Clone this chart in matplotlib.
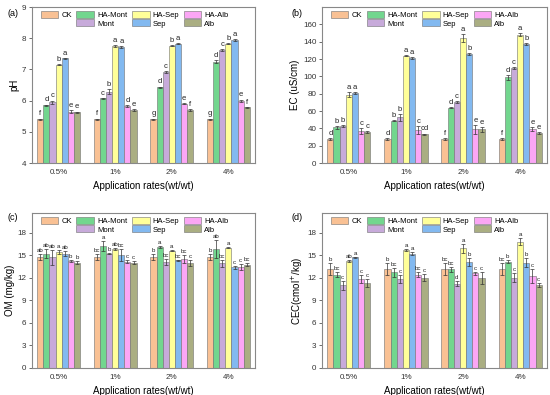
import matplotlib
matplotlib.use("Agg")
import matplotlib.pyplot as plt
import numpy as np
from matplotlib.patches import Patch

rates = ["0.5%", "1%", "2%", "4%"]
treatments = ["CK", "HA-Mont", "Mont", "HA-Sep", "Sep", "HA-Alb", "Alb"]
colors = ["#F9C194", "#72D68E", "#C7AADA", "#FFFF99", "#82B9F0", "#FBA6F5", "#AAAE82"]

# values per rate (rows) x treatment (cols)
ph = [[5.40, 5.85, 5.95, 7.15, 7.35, 5.65, 5.62],
      [5.40, 6.07, 6.28, 7.75, 7.72, 5.82, 5.70],
      [5.40, 6.43, 6.92, 7.76, 7.82, 5.90, 5.70],
      [5.40, 7.25, 7.63, 7.83, 7.95, 6.00, 5.78]]
ph_err = [[0.02, 0.02, 0.05, 0.02, 0.02, 0.05, 0.03],
          [0.02, 0.02, 0.08, 0.03, 0.02, 0.03, 0.02],
          [0.02, 0.02, 0.03, 0.02, 0.02, 0.02, 0.02],
          [0.02, 0.04, 0.03, 0.02, 0.03, 0.03, 0.02]]
ph_let = [["f", "d", "c", "b", "a", "e", "e"],
          ["f", "c", "b", "a", "a", "d", "e"],
          ["g", "d", "c", "b", "a", "e", "f"],
          ["g", "d", "c", "b", "a", "e", "f"]]

ec = [[28, 41, 43, 79, 81, 37, 36],
      [28, 49, 53, 124, 121, 38, 33],
      [28, 64, 70, 144, 126, 39, 39],
      [28, 99, 110, 148, 137, 39, 35]]
ec_err = [[1, 1.5, 1, 3, 1, 3, 1],
          [1, 1, 4, 1, 1, 5, 1],
          [1, 1, 1, 4.5, 1, 5, 3],
          [1, 3, 1, 2, 1, 2.5, 1]]
ec_let = [["d", "b", "b", "a", "a", "c", "c"],
          ["d", "b", "b", "a", "a", "c", "cd"],
          ["f", "d", "c", "a", "b", "e", "e"],
          ["f", "d", "c", "a", "b", "e", "e"]]

om = [[14.8, 15.2, 14.7, 15.4, 15.2, 14.2, 14.0],
      [14.8, 16.2, 15.2, 15.8, 15.0, 14.1, 14.0],
      [14.8, 16.1, 14.1, 15.6, 14.3, 14.5, 13.9],
      [14.8, 15.8, 13.9, 16.0, 13.4, 13.4, 13.7]]
om_err = [[0.4, 0.6, 1.0, 0.3, 0.3, 0.1, 0.2],
          [0.4, 0.7, 0.1, 0.1, 0.8, 0.2, 0.2],
          [0.4, 0.1, 0.4, 0.1, 0.1, 0.5, 0.4],
          [0.4, 1.2, 0.5, 0.1, 0.2, 0.4, 0.2]]
om_let = [["ab", "ab", "ab", "a", "ab", "b", "b"],
          ["bc", "a", "b", "ab", "bc", "c", "c"],
          ["b", "a", "bc", "a", "bc", "bc", "c"],
          ["b", "ab", "bc", "a", "c", "c", "bc"]]

cec = [[13.2, 12.4, 11.0, 14.2, 14.7, 11.8, 11.3],
       [13.2, 12.7, 11.8, 15.7, 15.2, 12.4, 12.0],
       [13.2, 13.1, 11.2, 15.9, 14.1, 12.6, 12.0],
       [13.2, 14.1, 12.0, 16.8, 14.0, 12.2, 11.0]]
cec_err = [[0.8, 0.3, 0.6, 0.1, 0.1, 0.5, 0.5],
           [0.8, 0.6, 0.5, 0.1, 0.2, 0.3, 0.5],
           [0.8, 0.3, 0.3, 0.6, 0.5, 0.2, 0.8],
           [0.8, 0.2, 0.6, 0.5, 0.6, 0.9, 0.3]]
cec_let = [["b", "bc", "c", "ab", "a", "c", "c"],
           ["b", "bc", "c", "a", "a", "bc", "c"],
           ["bc", "bc", "d", "a", "b", "c", "c"],
           ["bc", "b", "c", "a", "b", "c", "c"]]

W, H = 550, 395
fig = plt.figure(figsize=(5.5, 3.95), dpi=100)
plt.rcParams['font.family'] = ['Liberation Sans', 'DejaVu Sans']


def rect(l, r, t, b):
    return [l / W, 1 - b / H, (r - l) / W, (b - t) / H]


panels = [
    (rect(32, 255, 7, 163), ph, ph_err, ph_let, "pH", (4, 9), np.arange(4, 10, 1), "(a)", (8, 13), 0.04, 5.5),
    (rect(322, 547, 7, 163), ec, ec_err, ec_let, "EC (uS/cm)", (0, 180), np.arange(0, 161, 20), "(b)", (291, 13), 1.2, 5.5),
    (rect(32, 255, 213, 368), om, om_err, om_let, "OM (mg/kg)", (0, 20.6), np.arange(0, 19, 3), "(c)", (8, 217), 0.15, 4.4),
    (rect(322, 547, 213, 368), cec, cec_err, cec_let, "CEC(cmol$^{+}$/kg)", (0, 20.6), np.arange(0, 19, 3), "(d)", (291, 217), 0.15, 4.4),
]

bw = 0.108
x = np.arange(len(rates))
edge = "#707070"
for pos, vals, errs, lets, ylab, ylim, yt, tag, tagxy, pad, lfs in panels:
    ax = fig.add_axes(pos)
    vals = np.array(vals)
    errs = np.array(errs)
    for j, t in enumerate(treatments):
        xs = x + (j - 3) * bw
        ax.bar(xs, vals[:, j], bw, color=colors[j], edgecolor=edge, linewidth=0.4, zorder=2)
        ax.errorbar(xs, vals[:, j], yerr=errs[:, j], fmt="none", ecolor="#333333",
                    elinewidth=0.5, capsize=1.5, capthick=0.5, zorder=3)
        for i in range(len(rates)):
            ax.text(xs[i], vals[i, j] + errs[i, j] + pad, lets[i][j], ha="center", va="bottom",
                    fontsize=lfs, color="#222222", zorder=4)
    ax.set_ylim(*ylim)
    ax.set_xlim(-0.47, 3.47)
    ax.set_yticks(yt)
    ax.set_xticks(x)
    ax.set_xticklabels(rates)
    ax.tick_params(axis="both", labelsize=5.8, length=2, width=0.5, direction="out",
                   colors="#333333", pad=2)
    ax.tick_params(axis="x", length=0, pad=4)
    for s in ax.spines.values():
        s.set_color("#888888")
        s.set_linewidth(0.8)
    ax.set_ylabel(ylab, fontsize=7, labelpad=2)
    ax.set_xlabel("Application rates(wt/wt)", fontsize=7, labelpad=4)
    fig.text(tagxy[0] / W, 1 - tagxy[1] / H, tag, fontsize=6.5, ha="left", va="center")
    handles = [Patch(facecolor=colors[0], edgecolor=edge, lw=0.4, label="CK"),
               Patch(visible=False, label=" "),
               Patch(facecolor=colors[1], edgecolor=edge, lw=0.4, label="HA-Mont"),
               Patch(facecolor=colors[2], edgecolor=edge, lw=0.4, label="Mont"),
               Patch(facecolor=colors[3], edgecolor=edge, lw=0.4, label="HA-Sep"),
               Patch(facecolor=colors[4], edgecolor=edge, lw=0.4, label="Sep"),
               Patch(facecolor=colors[5], edgecolor=edge, lw=0.4, label="HA-Alb"),
               Patch(facecolor=colors[6], edgecolor=edge, lw=0.4, label="Alb")]
    ax.legend(handles=handles, ncol=4, loc="upper left", bbox_to_anchor=(0.02, 1.0),
              frameon=False, fontsize=5.5, handlelength=2.3, handleheight=1.05,
              columnspacing=0.6, handletextpad=0.4, labelspacing=0.0, borderaxespad=0.15)

fig.savefig("out.png", dpi=100)
